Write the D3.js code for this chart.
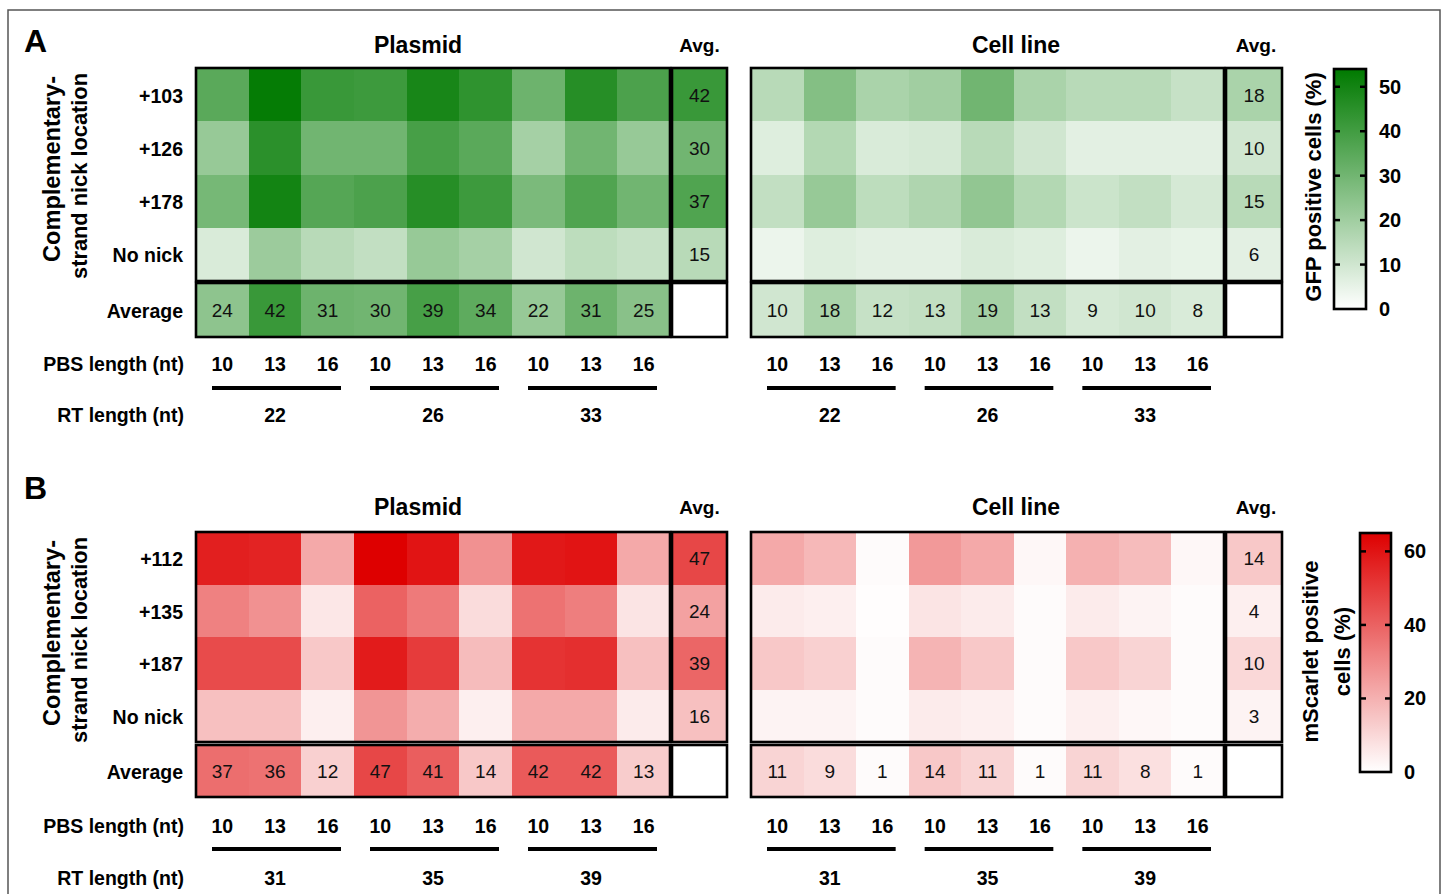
<!DOCTYPE html>
<html><head><meta charset="utf-8">
<script src="https://cdn.jsdelivr.net/npm/d3@7/dist/d3.min.js"></script>
<style>html,body{margin:0;padding:0;background:#fff;}svg{display:block;font-family:"Liberation Sans",Arial,Helvetica,sans-serif;}</style>
</head><body>
<svg id="chart" width="1448" height="894"></svg>
<script>
// ---------------- DATA ----------------
const pbsLabels = ["10","13","16","10","13","16","10","13","16"];
const rtLabelsA = ["22","26","33"];
const rtLabelsB = ["31","35","39"];
const rowLabelsA = ["+103","+126","+178","No nick"];
const rowLabelsB = ["+112","+135","+187","No nick"];

// Panel A – GFP positive cells (%)
const gfpPlasmid = [
  [35,53,42,41,49,44,31,46,38],
  [22,45,30,30,39,35,19,30,22],
  [29,50,36,38,46,41,28,37,30],
  [ 8,21,15,13,22,19,10,14,12]
];
const gfpPlasmidRowAvg = [42,30,37,15];
const gfpPlasmidColAvg = [24,42,31,30,39,34,22,31,25];

const gfpCell = [
  [15,26,18,20,30,18,15,15,12],
  [ 7,16, 8, 9,15,10, 6, 6, 6],
  [13,22,14,17,23,16,11,13, 9],
  [ 4, 7, 6, 6, 8, 7, 4, 6, 5]
];
const gfpCellRowAvg = [18,10,15,6];
const gfpCellColAvg = [10,18,12,13,19,13,9,10,8];

// Panel B – mScarlet positive cells (%)
const scarletPlasmid = [
  [57,56,22,65,60,28,59,60,22],
  [32,28, 6,40,34, 9,36,33, 7],
  [46,46,14,58,50,17,52,53,16],
  [16,16, 4,27,21, 4,22,22, 5]
];
const scarletPlasmidRowAvg = [47,24,39,16];
const scarletPlasmidColAvg = [37,36,12,47,41,14,42,42,13];

const scarletCell = [
  [22,18,1,26,22,2,20,17,2],
  [ 5, 4,0.5,7, 5,1, 5, 3,1],
  [14,12,1,19,14,1,14,11,1],
  [ 3, 3,1, 5, 4,1, 4, 2,1]
];
const scarletCellRowAvg = [14,4,10,3];
const scarletCellColAvg = [11,9,1,14,11,1,11,8,1];

const gfpTicks = [0,10,20,30,40,50];
const scarletTicks = [0,20,40,60];
const gfpMax = 54;
const scarletMax = 65;

// ---------------- DRAW ----------------
const svg = d3.select("#chart");
const gfpColor = d3.scaleLinear().domain([0,gfpMax]).range(["#ffffff","#007a00"]).interpolate(d3.interpolateRgb).clamp(true);
const redColor = d3.scaleLinear().domain([0,scarletMax]).range(["#ffffff","#de0000"]).interpolate(d3.interpolateRgb).clamp(true);

// outer frame
svg.append("rect").attr("x",8).attr("y",10).attr("width",1432).attr("height",910)
  .attr("fill","none").attr("stroke","#555").attr("stroke-width",1.5);

const BORDER = 2.6;

function drawBlock(lay, xr, avgXr, data, rowAvg, colAvg, color, rowLabels) {
  const g = svg.append("g");
  const cols = d3.range(pbsLabels.length);
  const x = d3.scaleBand().domain(cols).range(xr);
  const y = d3.scaleBand().domain(rowLabels).range([lay.top, lay.mainBottom]);
  const cells = [];
  data.forEach((row,ri)=>row.forEach((v,ci)=>cells.push({r:rowLabels[ri],c:ci,v})));
  g.selectAll("rect.cell").data(cells).join("rect").attr("class","cell")
    .attr("x",d=>x(d.c)).attr("y",d=>y(d.r))
    .attr("width",x.bandwidth()+0.5).attr("height",y.bandwidth()+0.5)
    .attr("fill",d=>color(d.v)).attr("shape-rendering","crispEdges");
  // row averages column
  g.selectAll("rect.ravg").data(rowAvg).join("rect").attr("class","ravg")
    .attr("x",avgXr[0]).attr("y",(d,i)=>y(rowLabels[i]))
    .attr("width",avgXr[1]-avgXr[0]).attr("height",y.bandwidth()+0.5)
    .attr("fill",d=>color(d)).attr("shape-rendering","crispEdges");
  g.selectAll("text.ravg").data(rowAvg).join("text").attr("class","ravg")
    .attr("x",(avgXr[0]+avgXr[1])/2).attr("y",(d,i)=>y(rowLabels[i])+y.bandwidth()/2+7)
    .attr("text-anchor","middle").attr("font-size",19).attr("fill","#111").text(d=>d);
  // column averages row
  g.selectAll("rect.cavg").data(colAvg).join("rect").attr("class","cavg")
    .attr("x",(d,i)=>x(i)).attr("y",lay.avgTop)
    .attr("width",x.bandwidth()+0.5).attr("height",lay.avgBottom-lay.avgTop)
    .attr("fill",d=>color(d)).attr("shape-rendering","crispEdges");
  g.selectAll("text.cavg").data(colAvg).join("text").attr("class","cavg")
    .attr("x",(d,i)=>x(i)+x.bandwidth()/2).attr("y",(lay.avgTop+lay.avgBottom)/2+7)
    .attr("text-anchor","middle").attr("font-size",19).attr("fill","#111").text(d=>d);
  // borders
  const boxes = [
    [xr[0],lay.top,xr[1],lay.mainBottom],
    [avgXr[0],lay.top,avgXr[1],lay.mainBottom],
    [xr[0],lay.avgTop,xr[1],lay.avgBottom],
    [avgXr[0],lay.avgTop,avgXr[1],lay.avgBottom]
  ];
  g.selectAll("rect.box").data(boxes).join("rect").attr("class","box")
    .attr("x",d=>d[0]).attr("y",d=>d[1]).attr("width",d=>d[2]-d[0]).attr("height",d=>d[3]-d[1])
    .attr("fill","none").attr("stroke","#000").attr("stroke-width",BORDER);
  // PBS labels
  g.selectAll("text.pbs").data(pbsLabels).join("text").attr("class","pbs")
    .attr("x",(d,i)=>x(i)+x.bandwidth()/2).attr("y",lay.pbsY)
    .attr("text-anchor","middle").attr("font-size",19.5).attr("font-weight","bold").text(d=>d);
  // RT group bars and labels
  const groups = d3.range(3);
  g.selectAll("line.grp").data(groups).join("line").attr("class","grp")
    .attr("x1",d=>x(d*3)+16).attr("x2",d=>x(d*3+2)+x.bandwidth()-13)
    .attr("y1",lay.barY).attr("y2",lay.barY).attr("stroke","#000").attr("stroke-width",4);
  g.selectAll("text.rt").data(lay.rt).join("text").attr("class","rt")
    .attr("x",(d,i)=>x(i*3+1)+x.bandwidth()/2).attr("y",lay.rtY)
    .attr("text-anchor","middle").attr("font-size",19.5).attr("font-weight","bold").text(d=>d);
  return {x,y};
}

function drawPanel(lay, letter, rowLabels, plasmid, pRow, pCol, cell, cRow, cCol, color) {
  const plasX = [196,670], plasAvg = [672,727];
  const cellX = [751,1224], cellAvg = [1226,1282];
  const p = drawBlock(lay, plasX, plasAvg, plasmid, pRow, pCol, color, rowLabels);
  drawBlock(lay, cellX, cellAvg, cell, cRow, cCol, color, rowLabels);
  // letter
  svg.append("text").attr("x",24).attr("y",lay.letterY).attr("font-size",32).attr("font-weight","bold").text(letter);
  // titles
  svg.append("text").attr("x",418).attr("y",lay.titleY).attr("text-anchor","middle").attr("font-size",23).attr("font-weight","bold").text("Plasmid");
  svg.append("text").attr("x",1016).attr("y",lay.titleY).attr("text-anchor","middle").attr("font-size",23).attr("font-weight","bold").text("Cell line");
  svg.append("text").attr("x",(plasAvg[0]+plasAvg[1])/2).attr("y",lay.titleY-1).attr("text-anchor","middle").attr("font-size",19).attr("font-weight","bold").text("Avg.");
  svg.append("text").attr("x",(cellAvg[0]+cellAvg[1])/2+2).attr("y",lay.titleY-1).attr("text-anchor","middle").attr("font-size",19).attr("font-weight","bold").text("Avg.");
  // row labels
  svg.append("g").selectAll("text").data(rowLabels).join("text")
    .attr("x",183).attr("y",d=>p.y(d)+p.y.bandwidth()/2+8)
    .attr("text-anchor","end").attr("font-size",19.5).attr("font-weight","bold").text(d=>d);
  svg.append("text").attr("x",183).attr("y",(lay.avgTop+lay.avgBottom)/2+8)
    .attr("text-anchor","end").attr("font-size",19.5).attr("font-weight","bold").text("Average");
  svg.append("text").attr("x",184).attr("y",lay.pbsY).attr("text-anchor","end").attr("font-size",19.5).attr("font-weight","bold").text("PBS length (nt)");
  svg.append("text").attr("x",184).attr("y",lay.rtY).attr("text-anchor","end").attr("font-size",19.5).attr("font-weight","bold").text("RT length (nt)");
  // y-axis title (two lines, rotated)
  svg.append("text").attr("transform",`translate(60,${lay.yTitle1}) rotate(-90)`)
    .attr("text-anchor","middle").attr("font-size",23).attr("font-weight","bold")
    .attr("textLength",186).attr("lengthAdjust","spacingAndGlyphs").text("Complementary-");
  svg.append("text").attr("transform",`translate(87,${lay.yTitle2}) rotate(-90)`)
    .attr("text-anchor","middle").attr("font-size",22.5).attr("font-weight","bold")
    .attr("textLength",206).attr("lengthAdjust","spacingAndGlyphs").text("strand nick location");
}

function drawColorbar(cb, max, ticks, color, lines, id) {
  const defs = svg.append("defs");
  const grad = defs.append("linearGradient").attr("id",id).attr("x1",0).attr("x2",0).attr("y1",1).attr("y2",0);
  d3.range(0,1.0001,0.1).forEach(t=>grad.append("stop").attr("offset",t).attr("stop-color",color(t*max)));
  const y = d3.scaleLinear().domain([0,max]).range([cb.y1,cb.y0]);
  svg.append("rect").attr("x",cb.x0).attr("y",cb.y0).attr("width",cb.x1-cb.x0).attr("height",cb.y1-cb.y0)
    .attr("fill",`url(#${id})`).attr("stroke","#000").attr("stroke-width",BORDER);
  const g = svg.append("g");
  g.selectAll("line.l").data(ticks.filter(t=>t>0)).join("line").attr("class","l")
    .attr("x1",cb.x0).attr("x2",cb.x0+6).attr("y1",d=>y(d)).attr("y2",d=>y(d)).attr("stroke","#000").attr("stroke-width",2.5);
  g.selectAll("line.r").data(ticks.filter(t=>t>0)).join("line").attr("class","r")
    .attr("x1",cb.x1-6).attr("x2",cb.x1).attr("y1",d=>y(d)).attr("y2",d=>y(d)).attr("stroke","#000").attr("stroke-width",2.5);
  g.selectAll("text").data(ticks).join("text")
    .attr("x",cb.x1+13).attr("y",d=>y(d)+7).attr("font-size",20).attr("font-weight","bold").text(d=>d);
  const cy = (cb.y0+cb.y1)/2 + cb.labelShift;
  const t = svg.append("text").attr("transform",`translate(0,${cy}) rotate(-90)`)
    .attr("text-anchor","middle").attr("font-size",22).attr("font-weight","bold");
  lines.forEach((s,i)=>t.append("tspan").attr("x",0).attr("y",cb.labelX[i]).text(s));
}

const layA = {top:68, mainBottom:281, avgTop:283, avgBottom:337, pbsY:371, barY:388, rtY:422, rt:rtLabelsA,
  letterY:52, titleY:53, yTitle1:169, yTitle2:176};
const layB = {top:532, mainBottom:742, avgTop:745, avgBottom:797, pbsY:833, barY:849, rtY:885, rt:rtLabelsB,
  letterY:499, titleY:515, yTitle1:633, yTitle2:640};

drawPanel(layA,"A",rowLabelsA,gfpPlasmid,gfpPlasmidRowAvg,gfpPlasmidColAvg,gfpCell,gfpCellRowAvg,gfpCellColAvg,gfpColor);
drawPanel(layB,"B",rowLabelsB,scarletPlasmid,scarletPlasmidRowAvg,scarletPlasmidColAvg,scarletCell,scarletCellRowAvg,scarletCellColAvg,redColor);

drawColorbar({x0:1334,x1:1366,y0:69,y1:309,labelShift:-2,labelX:[1321]}, gfpMax, gfpTicks, gfpColor, ["GFP positive cells (%)"], "gA");
drawColorbar({x0:1360,x1:1391,y0:533,y1:772,labelShift:-1,labelX:[1318,1350]}, scarletMax, scarletTicks, redColor, ["mScarlet positive","cells (%)"], "gB");
</script>
</body></html>
